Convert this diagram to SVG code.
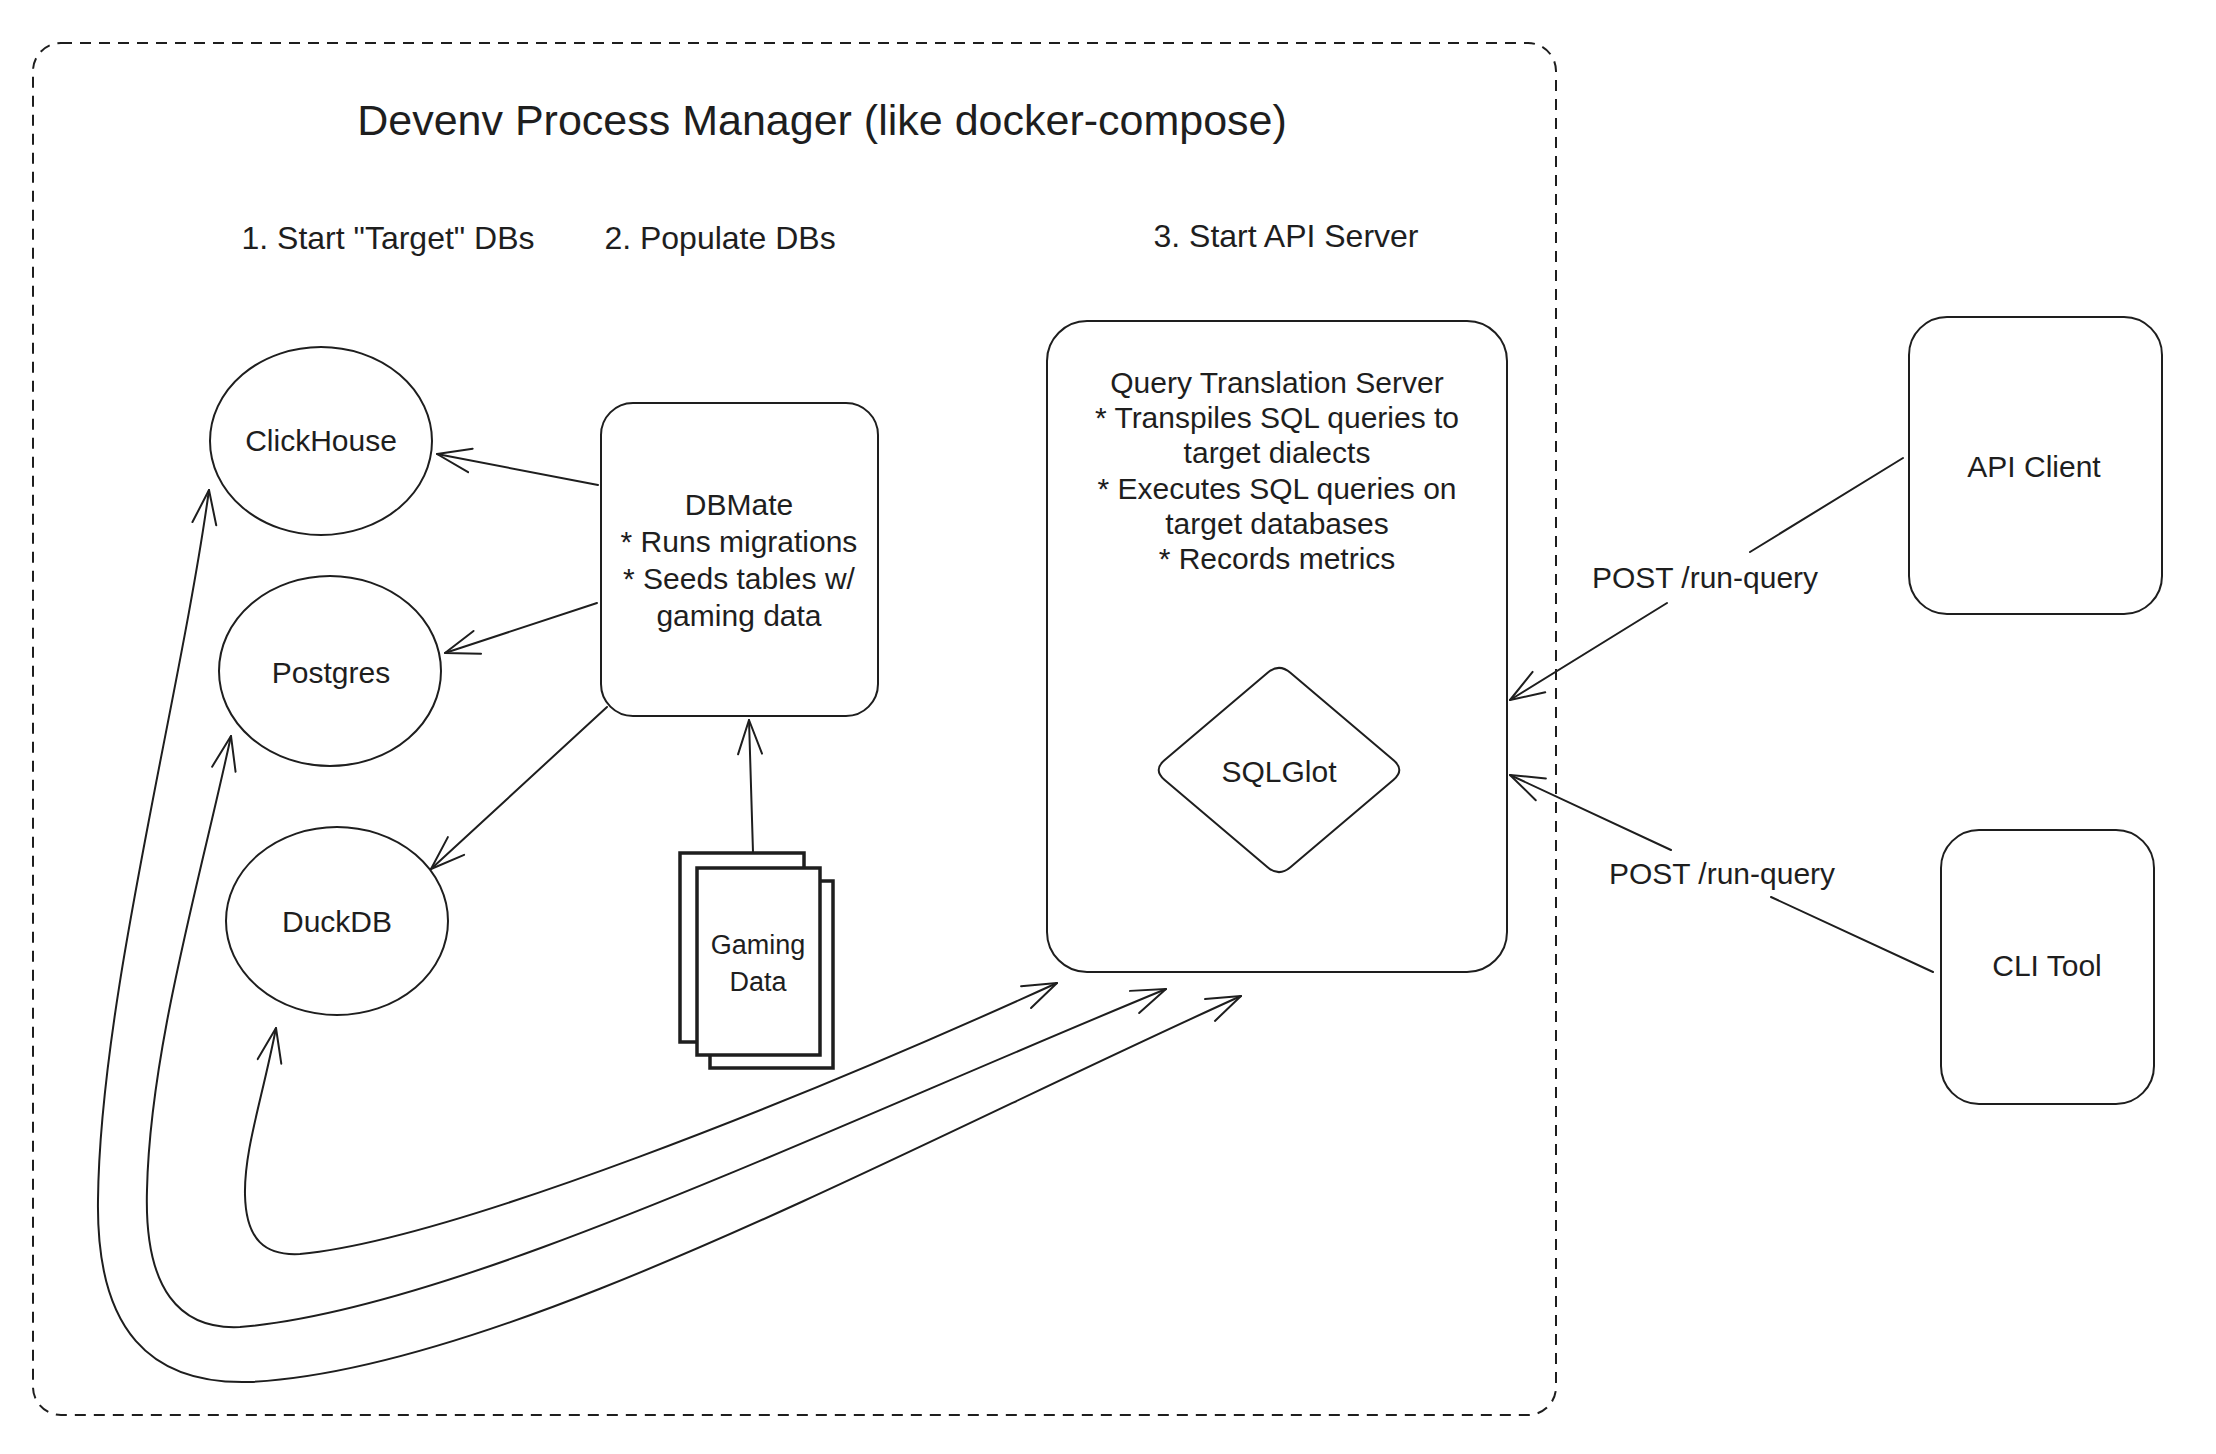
<svg xmlns="http://www.w3.org/2000/svg" width="2216" height="1454" viewBox="0 0 2216 1454">
<style>
  .txt { font-family: "Liberation Sans", Arial, sans-serif; fill: #1e1e1e; text-anchor: middle; dominant-baseline: central; }
  .title { font-size: 43px; }
  .head { font-size: 32px; }
  .body { font-size: 30px; }
  .small { font-size: 27px; }
  .shape { fill: #ffffff; stroke: #1e1e1e; stroke-width: 2; }
  .doc { fill: #ffffff; stroke: #1e1e1e; stroke-width: 3.5; }
  .conn { fill: none; stroke: #1e1e1e; stroke-width: 2; stroke-linecap: round; stroke-linejoin: round; }
  .dashed { fill: none; stroke: #1e1e1e; stroke-width: 2; stroke-dasharray: 11 8; }
</style>
<defs>
  <marker id="ah" markerUnits="userSpaceOnUse" markerWidth="50" markerHeight="40" viewBox="-45 -20 50 40" refX="0" refY="0" orient="auto-start-reverse" overflow="visible">
    <path d="M-34,-12 L0,0 L-34,12" fill="none" stroke="#1e1e1e" stroke-width="2" stroke-linecap="round" stroke-linejoin="round"/>
  </marker>
</defs>
<rect x="0" y="0" width="2216" height="1454" fill="#ffffff"/>

<g id="process-manager">
  <rect class="dashed" x="33" y="43" width="1523" height="1372" rx="28"/>
  <text class="txt title" x="822" y="120">Devenv Process Manager (like docker-compose)</text>
</g>

<g id="headings">
  <text class="txt head" x="388" y="238">1. Start "Target" DBs</text>
  <text class="txt head" x="720" y="238">2. Populate DBs</text>
  <text class="txt head" x="1286" y="236">3. Start API Server</text>
</g>

<g id="clickhouse">
  <ellipse class="shape" cx="321" cy="441" rx="111" ry="94"/>
  <text class="txt body" x="321" y="440">ClickHouse</text>
</g>

<g id="postgres">
  <ellipse class="shape" cx="330" cy="671" rx="111" ry="95"/>
  <text class="txt body" x="331" y="672">Postgres</text>
</g>

<g id="duckdb">
  <ellipse class="shape" cx="337" cy="921" rx="111" ry="94"/>
  <text class="txt body" x="337" y="921">DuckDB</text>
</g>

<g id="dbmate">
  <rect class="shape" x="601" y="403" width="277" height="313" rx="32"/>
  <text class="txt body" x="739" y="504">DBMate</text>
  <text class="txt body" x="739" y="541">* Runs migrations</text>
  <text class="txt body" x="739" y="578">* Seeds tables w/</text>
  <text class="txt body" x="739" y="615">gaming data</text>
</g>

<g id="gaming-data">
  <rect class="doc" x="680" y="853" width="124" height="189"/>
  <rect class="doc" x="710" y="881" width="123" height="187"/>
  <rect class="doc" x="697" y="868" width="123" height="187"/>
  <text class="txt small" x="758" y="945">Gaming</text>
  <text class="txt small" x="758" y="982">Data</text>
</g>

<g id="query-translation-server">
  <rect class="shape" x="1047" y="321" width="460" height="651" rx="40"/>
  <text class="txt body" x="1277" y="382">Query Translation Server</text>
  <text class="txt body" x="1277" y="417">* Transpiles SQL queries to</text>
  <text class="txt body" x="1277" y="452">target dialects</text>
  <text class="txt body" x="1277" y="488">* Executes SQL queries on</text>
  <text class="txt body" x="1277" y="523">target databases</text>
  <text class="txt body" x="1277" y="558">* Records metrics</text>
</g>

<g id="sqlglot">
  <path class="shape" d="M1267.6,672.7 Q1279,663 1290.4,672.7 L1393.6,760.3 Q1405,770 1393.6,779.7 L1290.4,867.3 Q1279,877 1267.6,867.3 L1164.4,779.7 Q1153,770 1164.4,760.3 Z"/>
  <text class="txt body" x="1279" y="771">SQLGlot</text>
</g>

<g id="api-client">
  <rect class="shape" x="1909" y="317" width="253" height="297" rx="38"/>
  <text class="txt body" x="2034" y="466">API Client</text>
</g>

<g id="cli-tool">
  <rect class="shape" x="1941" y="830" width="213" height="274" rx="38"/>
  <text class="txt body" x="2047" y="965">CLI Tool</text>
</g>

<g id="connectors">
  <path class="conn" marker-end="url(#ah)" d="M598,485 L437,454"/>
  <path class="conn" marker-end="url(#ah)" d="M597,603 L445,653"/>
  <path class="conn" marker-end="url(#ah)" d="M607,707 L431,869"/>
  <path class="conn" marker-end="url(#ah)" d="M753,852 L749,720"/>
  <path class="conn" marker-start="url(#ah)" marker-end="url(#ah)" d="M209,490 C180,700 100,1000 98,1200 C96,1330 150,1385 250,1382 C500,1370 900,1150 1241,996"/>
  <path class="conn" marker-start="url(#ah)" marker-end="url(#ah)" d="M231,736 C200,880 150,1050 147,1190 C144,1290 180,1330 240,1327 C450,1310 800,1140 1166,989"/>
  <path class="conn" marker-start="url(#ah)" marker-end="url(#ah)" d="M276,1028 C262,1100 244,1150 245,1195 C246,1240 265,1256 300,1254 C450,1240 800,1100 1057,983"/>
  <path class="conn" marker-end="url(#ah)" d="M1903,458 L1750,552 M1667,603 L1510,700"/>
  <text class="txt body" x="1705" y="577">POST /run-query</text>
  <path class="conn" marker-end="url(#ah)" d="M1933,972 L1771,897 M1671,850 L1510,775"/>
  <text class="txt body" x="1722" y="873">POST /run-query</text>
</g>
</svg>
